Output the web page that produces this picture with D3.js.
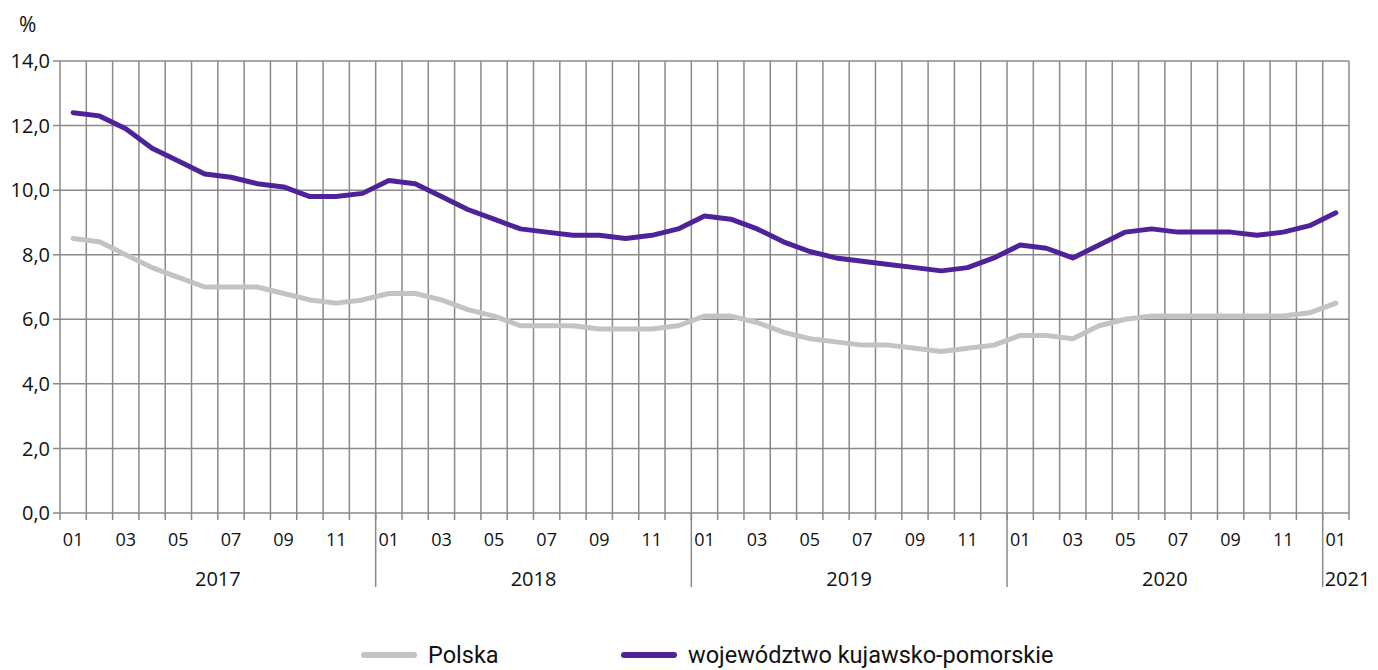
<!DOCTYPE html>
<html>
<head>
<meta charset="utf-8">
<script src="https://cdn.jsdelivr.net/npm/d3@7"></script>
<style>
  body { margin: 0; background: #fff; }
  text { font-family: "Open Sans", "Noto Sans", sans-serif; fill: #111; }
  .legend text { font-family: Roboto, "Noto Sans", sans-serif; }
</style>
</head>
<body>
<div id="chart"></div>
<script>
// Data
var years = ["2017", "2018", "2019", "2020", "2021"];
var months = ["01","02","03","04","05","06","07","08","09","10","11","12"];

var polska = [
  8.5, 8.4, 8.0, 7.6, 7.3, 7.0, 7.0, 7.0, 6.8, 6.6, 6.5, 6.6,
  6.8, 6.8, 6.6, 6.3, 6.1, 5.8, 5.8, 5.8, 5.7, 5.7, 5.7, 5.8,
  6.1, 6.1, 5.9, 5.6, 5.4, 5.3, 5.2, 5.2, 5.1, 5.0, 5.1, 5.2,
  5.5, 5.5, 5.4, 5.8, 6.0, 6.1, 6.1, 6.1, 6.1, 6.1, 6.1, 6.2,
  6.5
];
var kujawsko = [
  12.4, 12.3, 11.9, 11.3, 10.9, 10.5, 10.4, 10.2, 10.1, 9.8, 9.8, 9.9,
  10.3, 10.2, 9.8, 9.4, 9.1, 8.8, 8.7, 8.6, 8.6, 8.5, 8.6, 8.8,
  9.2, 9.1, 8.8, 8.4, 8.1, 7.9, 7.8, 7.7, 7.6, 7.5, 7.6, 7.9,
  8.3, 8.2, 7.9, 8.3, 8.7, 8.8, 8.7, 8.7, 8.7, 8.6, 8.7, 8.9,
  9.3
];
var yTicks = [0, 2, 4, 6, 8, 10, 12, 14];

// month keys like "2017-01"
var periods = [];
years.forEach(function(y) {
  months.forEach(function(m) {
    if (periods.length < polska.length) periods.push(y + "-" + m);
  });
});

// Chart area
var svgWidth = 1378;
var svgHeight = 670;
var margin = { top: 61, right: 29, bottom: 157, left: 60 };
var width = svgWidth - margin.left - margin.right;
var height = svgHeight - margin.top - margin.bottom;

var svg = d3.select("#chart")
  .append("svg")
  .attr("width", svgWidth)
  .attr("height", svgHeight);

var chartGroup = svg.append("g")
  .attr("transform", `translate(${margin.left}, ${margin.top})`);

var xScale = d3.scaleBand()
  .domain(periods)
  .range([0, width])
  .padding(0);

var yScale = d3.scaleLinear()
  .domain([0, 14])
  .range([height, 0]);

var bw = xScale.bandwidth();
var gridColor = "#8a8a8a";

// horizontal grid
chartGroup.selectAll(".hgrid")
  .data(yTicks)
  .enter()
  .append("line")
  .attr("x1", -7)
  .attr("x2", width)
  .attr("y1", d => yScale(d))
  .attr("y2", d => yScale(d))
  .attr("stroke", gridColor)
  .attr("stroke-width", 1.5);

// vertical grid at month boundaries
var bounds = periods.map(p => xScale(p)).concat([width]);
chartGroup.selectAll(".vgrid")
  .data(bounds)
  .enter()
  .append("line")
  .attr("x1", d => d)
  .attr("x2", d => d)
  .attr("y1", 0)
  .attr("y2", height + 7)
  .attr("stroke", gridColor)
  .attr("stroke-width", 1.5);

// year separators
var yearStarts = periods.filter((p, i) => i > 0 && p.slice(5) === "01");
chartGroup.selectAll(".ysep")
  .data(yearStarts)
  .enter()
  .append("line")
  .attr("x1", d => xScale(d))
  .attr("x2", d => xScale(d))
  .attr("y1", height)
  .attr("y2", height + 74)
  .attr("stroke", gridColor)
  .attr("stroke-width", 1.5);

// y labels
chartGroup.selectAll(".ylab")
  .data(yTicks)
  .enter()
  .append("text")
  .attr("x", -10)
  .attr("y", d => yScale(d))
  .attr("dy", "0.36em")
  .attr("text-anchor", "end")
  .style("font-size", "20px")
  .text(d => d.toFixed(1).replace(".", ","));

svg.append("text")
  .attr("x", 19)
  .attr("y", 32)
  .style("font-size", "21px")
  .text("%");

// month labels (odd months)
var oddMonths = periods.filter(p => (+p.slice(5)) % 2 === 1);
chartGroup.selectAll(".mlab")
  .data(oddMonths)
  .enter()
  .append("text")
  .attr("x", d => xScale(d) + bw / 2)
  .attr("y", height + 33)
  .attr("text-anchor", "middle")
  .style("font-size", "18px")
  .text(d => d.slice(5));

// year labels
chartGroup.selectAll(".ylabel")
  .data(years)
  .enter()
  .append("text")
  .attr("x", function(y) {
    var ps = periods.filter(p => p.slice(0, 4) === y);
    if (ps.length < 12) return xScale(ps[0]) + 2;
    return (xScale(ps[0]) + xScale(ps[ps.length - 1]) + bw) / 2;
  })
  .attr("y", height + 73)
  .attr("text-anchor", y => periods.filter(p => p.slice(0, 4) === y).length < 12 ? "start" : "middle")
  .style("font-size", "20px")
  .text(d => d);

// lines
var line = d3.line()
  .x((d, i) => xScale(periods[i]) + bw / 2)
  .y(d => yScale(d));

var series = [
  { name: "Polska", values: polska, color: "#c3c3c3" },
  { name: "województwo kujawsko-pomorskie", values: kujawsko, color: "#4e2399" }
];

chartGroup.selectAll(".series")
  .data(series)
  .enter()
  .append("path")
  .attr("d", d => line(d.values))
  .attr("fill", "none")
  .attr("stroke", d => d.color)
  .attr("stroke-width", 5)
  .attr("stroke-linejoin", "round")
  .attr("stroke-linecap", "round");

// legend
var legendX = [362, 622];
var legend = svg.append("g").attr("class", "legend");
series.forEach(function(s, i) {
  legend.append("line")
    .attr("x1", legendX[i] + 2)
    .attr("x2", legendX[i] + 52)
    .attr("y1", 655)
    .attr("y2", 655)
    .attr("stroke", s.color)
    .attr("stroke-width", 6)
    .attr("stroke-linecap", "round");
  legend.append("text")
    .attr("x", legendX[i] + 66)
    .attr("y", 663)
    .style("font-size", "23.5px")
    .text(s.name);
});
</script>
</body>
</html>
